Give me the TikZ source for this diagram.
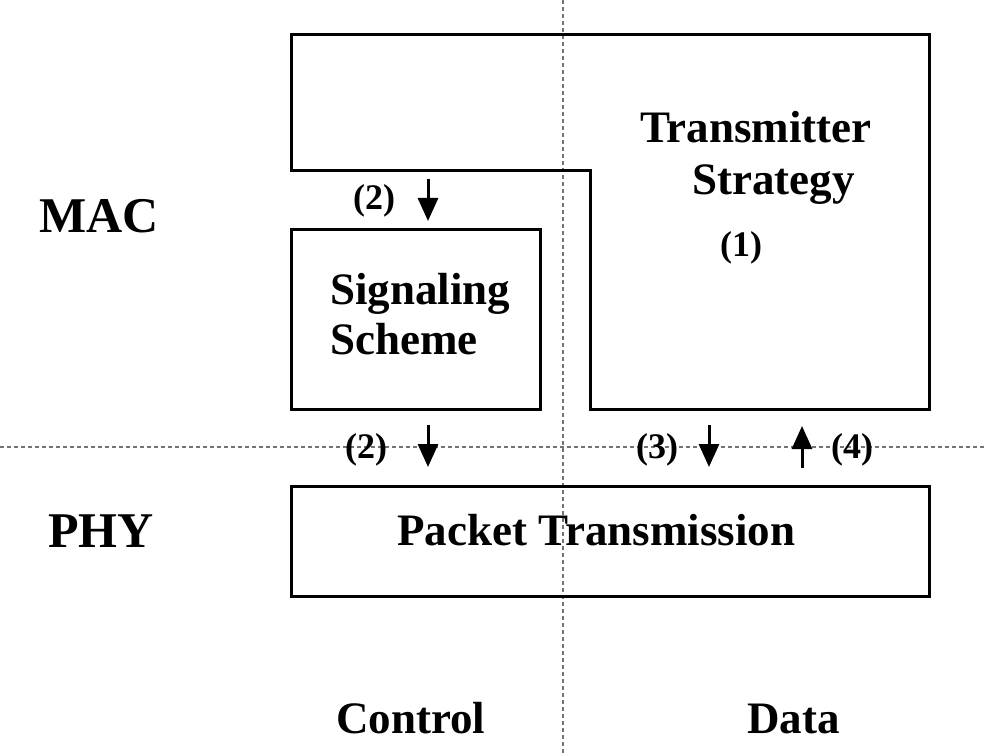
\documentclass[tikz,border=0pt]{standalone}
\usepackage{fontspec}
\setmainfont{Liberation Serif}
\usetikzlibrary{arrows.meta}

\tikzset{
  box/.style={draw=black, line width=3pt},
  guide/.style={draw=black!55, line width=1.3pt, dash pattern=on 4pt off 3pt},
  flow/.style={line width=3pt, -{Triangle[width=20pt,length=23pt]}},
  lbl/.style={anchor=base west, inner sep=0pt, font=\bfseries\fontsize{45}{50}\selectfont},
  tag/.style={anchor=base west, inner sep=0pt, font=\bfseries\fontsize{36}{40}\selectfont},
  layer/.style={anchor=base west, inner sep=0pt, font=\bfseries\fontsize{50}{56}\selectfont},
}

\begin{document}
\begin{tikzpicture}[x=1pt, y=-1pt]
  \useasboundingbox (0,0) rectangle (986,754);

  % layer and plane separators
  \coordinate (vtop) at (563,0);
  \coordinate (vbot) at (563,754);
  \coordinate (hleft) at (0,447);
  \coordinate (hright) at (984,447);
  \draw[guide] (vtop) -- (vbot);
  \draw[guide] (hleft) -- (hright);

  % transmitter strategy block (L-shaped)
  \draw[box] (291,35) -- (929,35) -- (929,409) -- (590,409) -- (590,171) -- (291,171) -- cycle;

  % signaling scheme block
  \draw[box] (291,230) rectangle (540,409);

  % packet transmission block
  \draw[box] (291,486) rectangle (929,596);

  % labels
  \node[layer] (mac) at (39,233) {MAC};
  \node[layer] (phy) at (48,547) {PHY};
  \node[lbl] (ts1) at (640,143) {Transmitter};
  \node[lbl] (ts2) at (692,195) {Strategy};
  \node[tag] (t1) at (720,257) {(1)};
  \node[lbl] (ss1) at (330,305) {Signaling};
  \node[lbl] (ss2) at (330,355) {Scheme};
  \node[lbl] (pt) at (397,545) {Packet Transmission};
  \node[lbl] (ctl) at (336,733) {Control};
  \node[lbl] (dat) at (747,733) {Data};

  % interface tags
  \node[tag] (t2a) at (353,210) {(2)};
  \node[tag] (t2b) at (345,458) {(2)};
  \node[tag] (t3) at (636,458) {(3)};
  \node[tag] (t4) at (831,458) {(4)};

  % interface arrows
  \coordinate (a1s) at (428,179);
  \coordinate (a1e) at (428,221);
  \coordinate (a2s) at (428,425);
  \coordinate (a2e) at (428,467);
  \coordinate (a3s) at (709,425);
  \coordinate (a3e) at (709,467);
  \coordinate (a4s) at (802,468);
  \coordinate (a4e) at (802,426);
  \draw[flow] (a1s) -- (a1e);
  \draw[flow] (a2s) -- (a2e);
  \draw[flow] (a3s) -- (a3e);
  \draw[flow] (a4s) -- (a4e);
\end{tikzpicture}
\end{document}
